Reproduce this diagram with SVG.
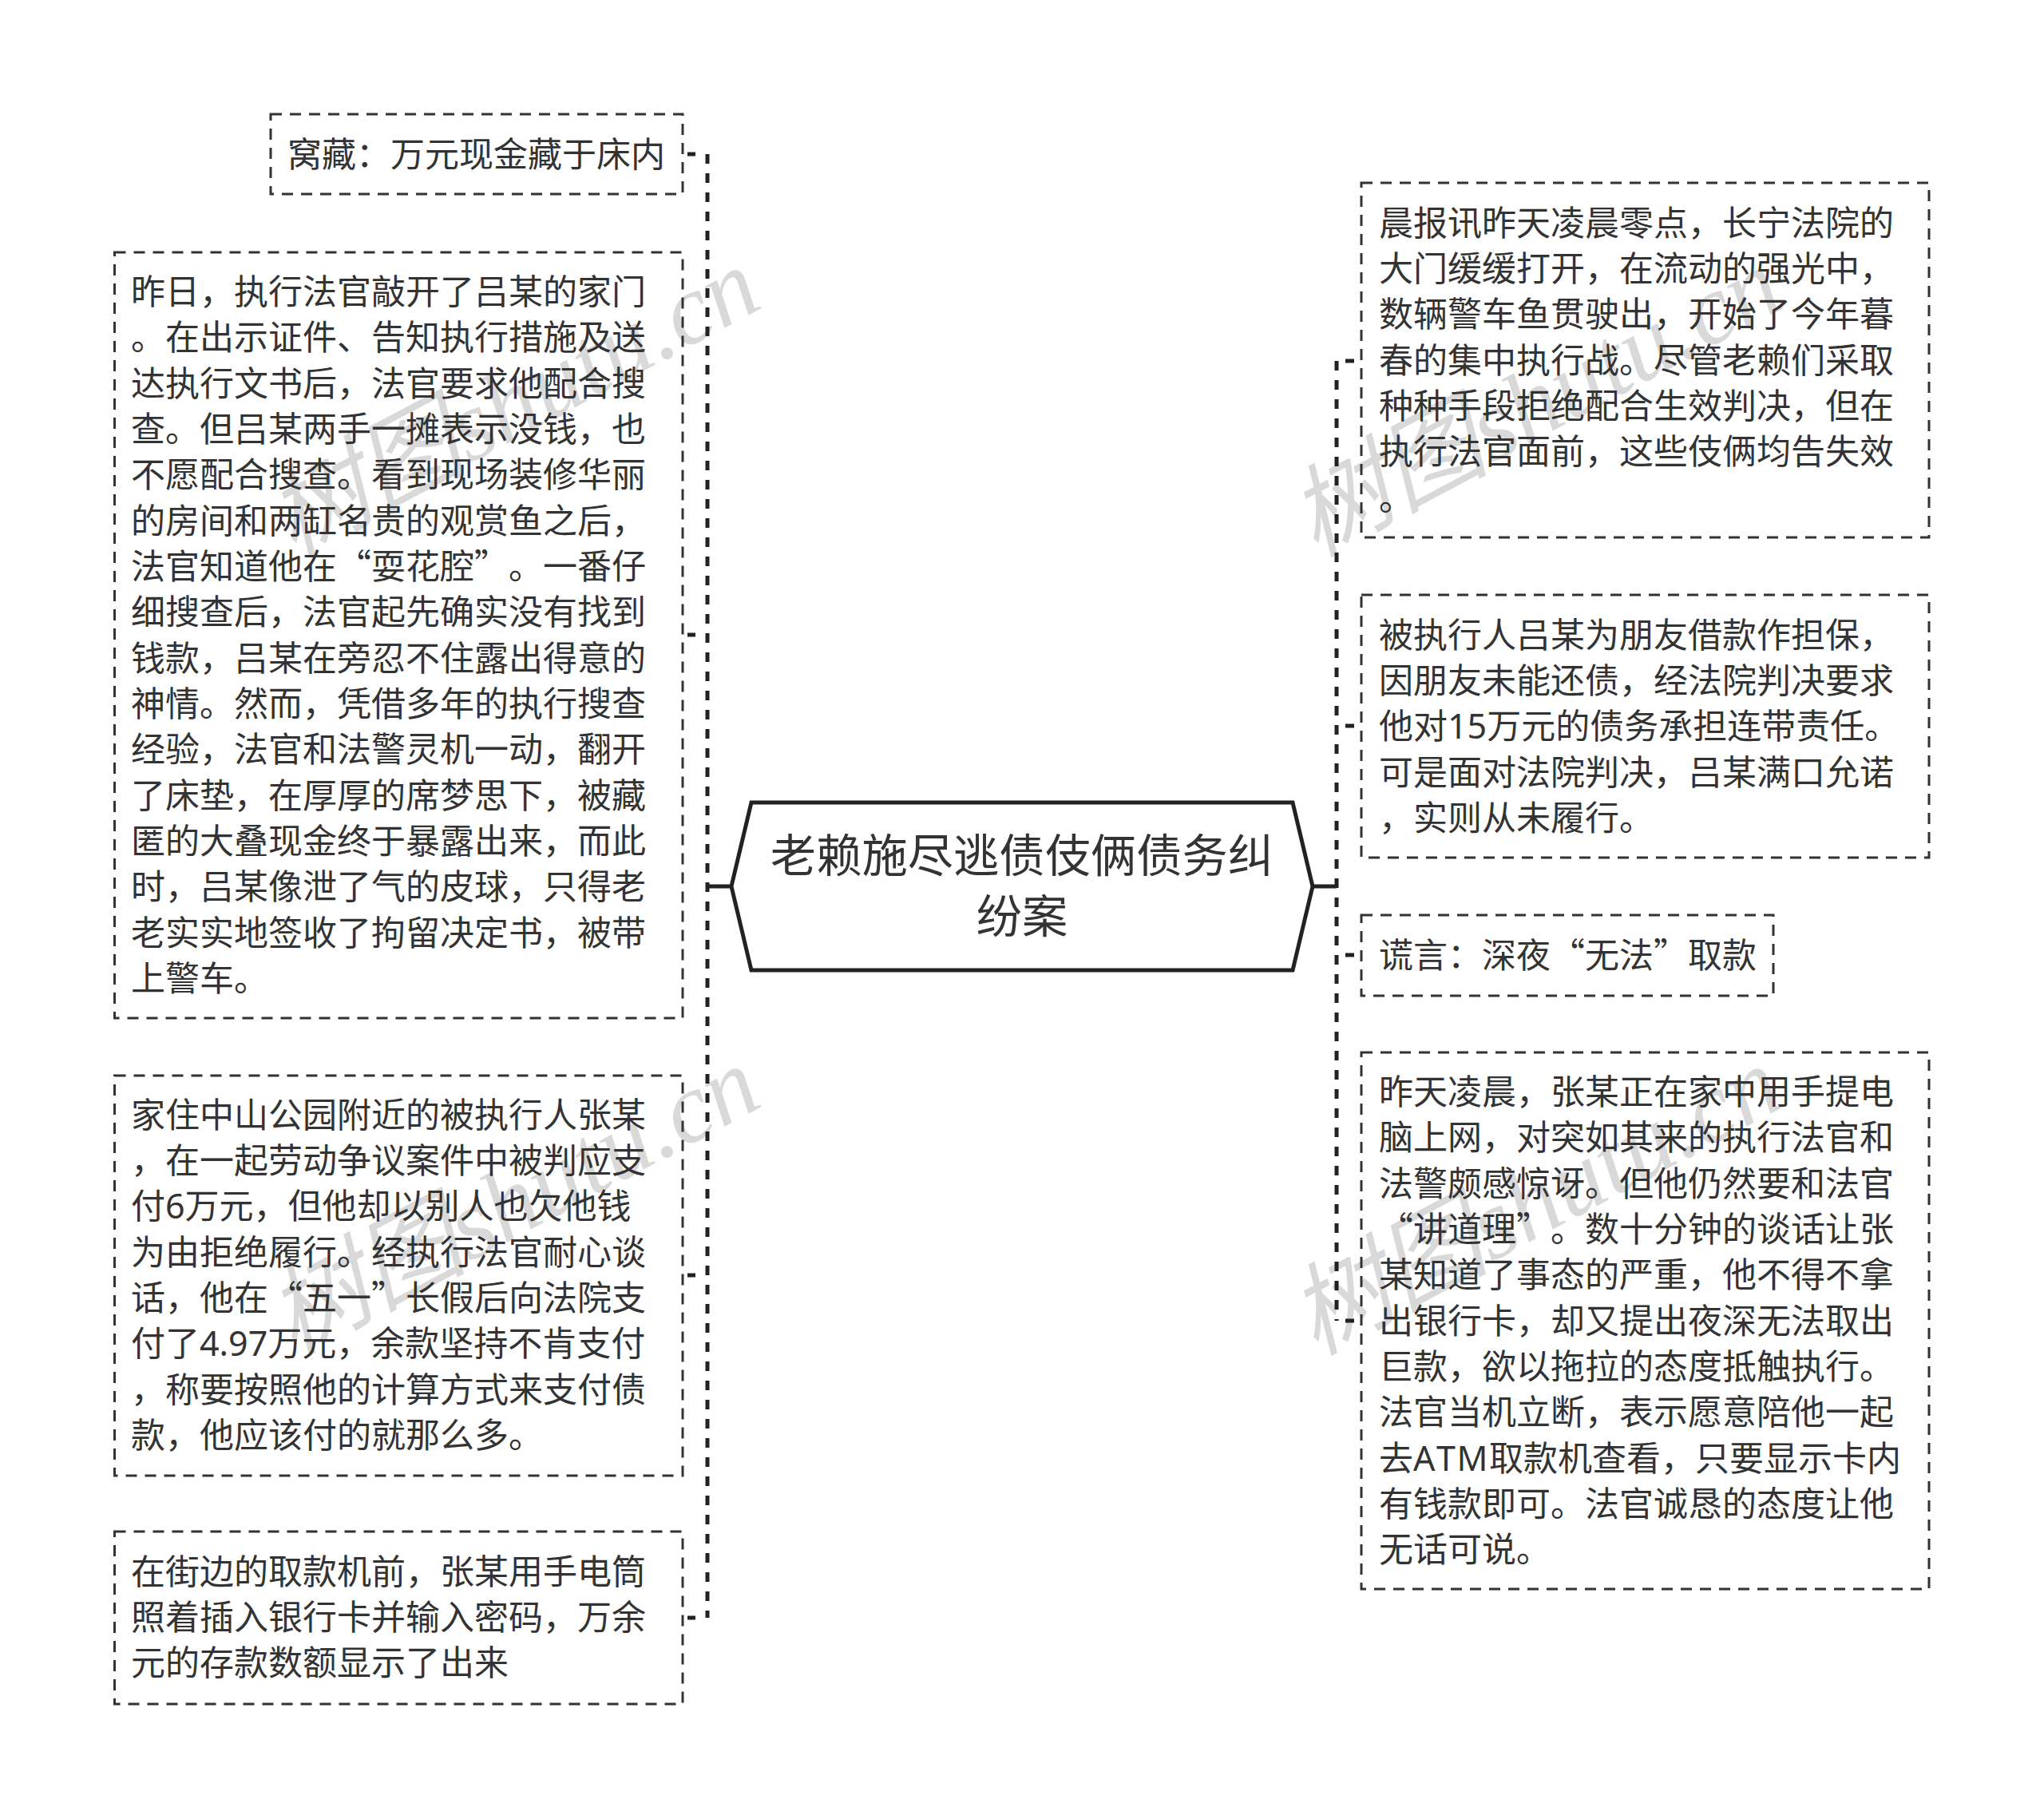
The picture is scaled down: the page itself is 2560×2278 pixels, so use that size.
<svg xmlns="http://www.w3.org/2000/svg" width="2560" height="2278" viewBox="0 0 2560 2278">
<style>
text{text-spacing-trim:space-all;font-kerning:none}
.n{fill:none;stroke:#333;stroke-width:3;stroke-dasharray:14 10}
.t{font-family:"Noto Sans CJK SC","Noto Sans",sans-serif;font-size:43px;fill:#333}
.h{font-family:"Noto Sans CJK SC","Noto Sans",sans-serif;font-size:57.3px;fill:#333;text-anchor:middle}
.w{font-family:"Liberation Serif","Noto Sans CJK SC",serif;font-style:italic;font-size:125px;fill:#d9d9d9}
.l{font-family:"Noto Sans",sans-serif}
.c{fill:none;stroke:#222;stroke-width:5}
.d{stroke-dasharray:12 12}
</style>
<rect width="2560" height="2278" fill="#fff"/>
<g id="watermarks">
<text class="w" transform="translate(367 698) rotate(-28)">树图shutu.cn</text>
<text class="w" transform="translate(367 1698) rotate(-28)">树图shutu.cn</text>
<text class="w" transform="translate(1647 698) rotate(-28)">树图shutu.cn</text>
<text class="w" transform="translate(1647 1698) rotate(-28)">树图shutu.cn</text>
</g>
<g id="connectors">
<path class="c d" d="M886 193V2026"/>
<path class="c d" d="M1674 452V1654"/>
<path class="c" d="M886 1110H916M1644 1110H1674"/>
<path class="c" d="M861 193H871M861 795H871M861 1597H871M861 2026H871M1685 452H1696M1685 909H1696M1685 1196H1696M1685 1654H1696"/>
</g>
<g id="root">
<path d="M941 1005H1619L1644 1110L1619 1215H941L916 1110Z" fill="#fff" stroke="#222" stroke-width="5"/>
<text class="h" x="1280" y="1092">老赖施尽逃债伎俩债务纠</text>
<text class="h" x="1280" y="1168">纷案</text>
</g>
<g id="n1">
<rect class="n" x="339" y="143" width="516" height="100"/>
<text class="t" x="360" y="209">窝藏：万元现金藏于床内</text>
</g>
<g id="n2">
<rect class="n" x="143.500" y="316" width="711.500" height="959"/>
<g class="t">
<text x="164" y="381">昨日，执行法官敲开了吕某的家门</text>
<text x="164" y="438">。在出示证件、告知执行措施及送</text>
<text x="164" y="496">达执行文书后，法官要求他配合搜</text>
<text x="164" y="553">查。但吕某两手一摊表示没钱，也</text>
<text x="164" y="610">不愿配合搜查。看到现场装修华丽</text>
<text x="164" y="668">的房间和两缸名贵的观赏鱼之后，</text>
<text x="164" y="725">法官知道他在“耍花腔”。一番仔</text>
<text x="164" y="782">细搜查后，法官起先确实没有找到</text>
<text x="164" y="840">钱款，吕某在旁忍不住露出得意的</text>
<text x="164" y="897">神情。然而，凭借多年的执行搜查</text>
<text x="164" y="954">经验，法官和法警灵机一动，翻开</text>
<text x="164" y="1012">了床垫，在厚厚的席梦思下，被藏</text>
<text x="164" y="1069">匿的大叠现金终于暴露出来，而此</text>
<text x="164" y="1126">时，吕某像泄了气的皮球，只得老</text>
<text x="164" y="1184">老实实地签收了拘留决定书，被带</text>
<text x="164" y="1241">上警车。</text>
</g>
</g>
<g id="n3">
<rect class="n" x="143.500" y="1347" width="711.500" height="501"/>
<g class="t">
<text x="164" y="1412">家住中山公园附近的被执行人张某</text>
<text x="164" y="1469">，在一起劳动争议案件中被判应支</text>
<text x="164" y="1526">付<tspan class="l">6</tspan>万元，但他却以别人也欠他钱</text>
<text x="164" y="1584">为由拒绝履行。经执行法官耐心谈</text>
<text x="164" y="1641">话，他在“五一”长假后向法院支</text>
<text x="164" y="1698">付了<tspan class="l">4.97</tspan>万元，余款坚持不肯支付</text>
<text x="164" y="1756">，称要按照他的计算方式来支付债</text>
<text x="164" y="1813">款，他应该付的就那么多。</text>
</g>
</g>
<g id="n4">
<rect class="n" x="143.500" y="1918" width="711.500" height="216"/>
<g class="t">
<text x="164" y="1984">在街边的取款机前，张某用手电筒</text>
<text x="164" y="2041">照着插入银行卡并输入密码，万余</text>
<text x="164" y="2098">元的存款数额显示了出来</text>
</g>
</g>
<g id="n5">
<rect class="n" x="1705" y="229" width="711" height="444"/>
<g class="t">
<text x="1727" y="295">晨报讯昨天凌晨零点，长宁法院的</text>
<text x="1727" y="352">大门缓缓打开，在流动的强光中，</text>
<text x="1727" y="409">数辆警车鱼贯驶出，开始了今年暮</text>
<text x="1727" y="467">春的集中执行战。尽管老赖们采取</text>
<text x="1727" y="524">种种手段拒绝配合生效判决，但在</text>
<text x="1727" y="581">执行法官面前，这些伎俩均告失效</text>
<text x="1727" y="639">。</text>
</g>
</g>
<g id="n6">
<rect class="n" x="1705" y="745" width="711" height="329"/>
<g class="t">
<text x="1727" y="811">被执行人吕某为朋友借款作担保，</text>
<text x="1727" y="868">因朋友未能还债，经法院判决要求</text>
<text x="1727" y="925">他对<tspan class="l">15</tspan>万元的债务承担连带责任。</text>
<text x="1727" y="983">可是面对法院判决，吕某满口允诺</text>
<text x="1727" y="1040">，实则从未履行。</text>
</g>
</g>
<g id="n7">
<rect class="n" x="1705" y="1146" width="516" height="101"/>
<text class="t" x="1727" y="1212">谎言：深夜“无法”取款</text>
</g>
<g id="n8">
<rect class="n" x="1705" y="1318" width="711" height="672"/>
<g class="t">
<text x="1727" y="1383">昨天凌晨，张某正在家中用手提电</text>
<text x="1727" y="1440">脑上网，对突如其来的执行法官和</text>
<text x="1727" y="1498">法警颇感惊讶。但他仍然要和法官</text>
<text x="1727" y="1555">“讲道理”。数十分钟的谈话让张</text>
<text x="1727" y="1612">某知道了事态的严重，他不得不拿</text>
<text x="1727" y="1670">出银行卡，却又提出夜深无法取出</text>
<text x="1727" y="1727">巨款，欲以拖拉的态度抵触执行。</text>
<text x="1727" y="1784">法官当机立断，表示愿意陪他一起</text>
<text x="1727" y="1842">去<tspan class="l" letter-spacing="1.500">ATM</tspan>取款机查看，只要显示卡内</text>
<text x="1727" y="1899">有钱款即可。法官诚恳的态度让他</text>
<text x="1727" y="1956">无话可说。</text>
</g>
</g>
</svg>
